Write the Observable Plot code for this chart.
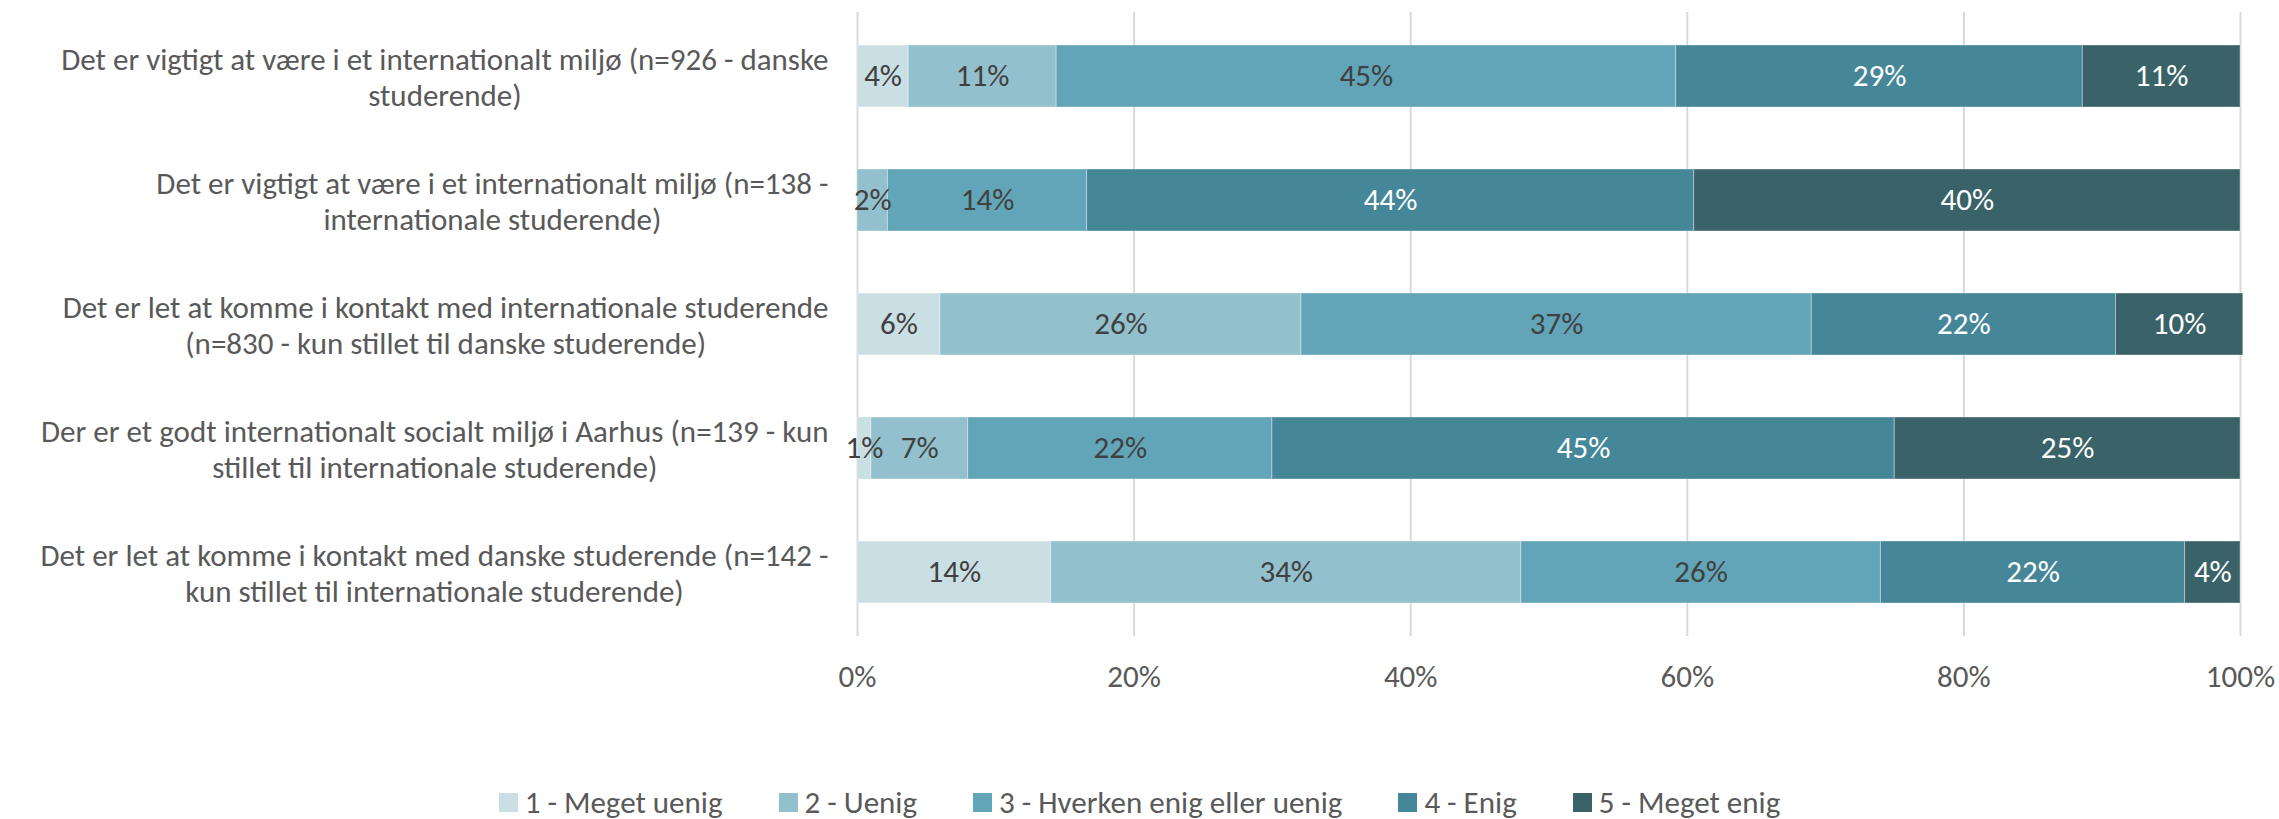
<!DOCTYPE html>
<html>
<head>
<meta charset="utf-8">
<script src="https://cdn.jsdelivr.net/npm/d3@7"></script>
<script src="https://cdn.jsdelivr.net/npm/@observablehq/plot@0.6"></script>
<style>
  html, body { margin: 0; padding: 0; background: #ffffff; overflow: hidden; }
  #chart svg { display: block; }
  #legend { display: flex; justify-content: center; align-items: center; margin-top: 26px; height: 32px; color: #595959; }
  .item { display: flex; align-items: center; margin: 0 28px; white-space: nowrap; }
  .sw { display: inline-block; width: 19px; height: 19px; margin-right: 7px; }
</style>
</head>
<body>
<div id="chart"></div>
<div id="legend"></div>
<script>
const categories = [
  "Det er vigtigt at være i et internationalt miljø (n=926 - danske\nstuderende)",
  "Det er vigtigt at være i et internationalt miljø (n=138 -\ninternationale studerende)",
  "Det er let at komme i kontakt med internationale studerende\n(n=830 - kun stillet til danske studerende)",
  "Der er et godt internationalt socialt miljø i Aarhus (n=139 - kun\nstillet til internationale studerende)",
  "Det er let at komme i kontakt med danske studerende (n=142 -\nkun stillet til internationale studerende)"
];
const series = ["1 - Meget uenig", "2 - Uenig", "3 - Hverken enig eller uenig", "4 - Enig", "5 - Meget enig"];
const colors = ["#c9dfe3", "#93c0cd", "#62a5b8", "#458799", "#3a6369"];

// segment lengths (percent)
const megetUenig = [3.7, 0, 6.0, 1.0, 14.0];
const uenig      = [10.7, 2.2, 26.1, 7.0, 34.0];
const hverken    = [44.8, 14.4, 36.9, 22.0, 26.0];
const enig       = [29.4, 43.9, 22.0, 45.0, 22.0];
const megetEnig  = [11.4, 39.5, 9.2, 25.0, 4.0];

// data labels as printed
const lblMegetUenig = ["4%", "", "6%", "1%", "14%"];
const lblUenig      = ["11%", "2%", "26%", "7%", "34%"];
const lblHverken    = ["45%", "14%", "37%", "22%", "26%"];
const lblEnig       = ["29%", "44%", "22%", "45%", "22%"];
const lblMegetEnig  = ["11%", "40%", "10%", "25%", "4%"];

const xTicks = [0, 20, 40, 60, 80, 100];
const xTickLabels = ["0%", "20%", "40%", "60%", "80%", "100%"];

const valueSets = [megetUenig, uenig, hverken, enig, megetEnig];
const labelSets = [lblMegetUenig, lblUenig, lblHverken, lblEnig, lblMegetEnig];

const data = [];
categories.forEach((c, i) => {
  series.forEach((s, j) => {
    data.push({category: c, series: s, idx: j, value: valueSets[j][i], label: labelSets[j][i]});
  });
});
const ticks = xTicks.map((v, i) => ({v, t: xTickLabels[i]}));

const FONT = "Carlito, Calibri, Lato, sans-serif";
const ctx = document.createElement("canvas").getContext("2d");
function tw(text, fs) { ctx.font = `${fs}px ${FONT}`; return ctx.measureText(text).width; }
const longest = d3.max(categories, c => d3.max(c.split("\n"), l => tw(l, 100)));
const fs = Math.min(31, 100 * 813 / longest);

const labelMarks = categories.map(c => {
  const mw = d3.max(c.split("\n"), l => tw(l, fs));
  return Plot.text([c], {
    x: () => 0, y: d => d, text: d => d,
    textAnchor: "middle", dx: -(29 + mw / 2),
    lineHeight: 36 / fs, fill: "#595959", fontSize: fs
  });
});

const plot = Plot.plot({
  width: 2279,
  height: 760,
  marginLeft: 857,
  marginRight: 39,
  marginTop: 12,
  marginBottom: 124,
  style: {fontFamily: FONT, fontSize: fs + "px", color: "#595959", background: "#ffffff"},
  x: {domain: [0, 100], axis: null},
  y: {domain: categories, paddingInner: 0.5, paddingOuter: 0.25, axis: null},
  color: {domain: series, range: colors},
  marks: [
    Plot.ruleX(xTicks, {stroke: "#d9d9d9", strokeWidth: 2}),
    Plot.barX(data, Plot.stackX({x: "value", y: "category", fill: "series", stroke: "#ffffff", strokeWidth: 1, strokeOpacity: 0.35})),
    Plot.text(data, Plot.stackX({x: "value", y: "category", z: "series", text: d => d.idx < 3 ? d.label : "", fill: "#404040", fontSize: fs})),
    Plot.text(data, Plot.stackX({x: "value", y: "category", z: "series", text: d => d.idx >= 3 ? d.label : "", fill: "#ffffff", fontSize: fs})),
    Plot.text(ticks, {x: "v", text: "t", frameAnchor: "bottom", dy: 50, fill: "#595959", fontSize: fs}),
    ...labelMarks
  ]
});
document.getElementById("chart").appendChild(plot);

const legend = document.getElementById("legend");
legend.style.fontFamily = FONT;
legend.style.fontSize = fs + "px";
series.forEach((s, i) => {
  const it = document.createElement("div");
  it.className = "item";
  const sw = document.createElement("span");
  sw.className = "sw";
  sw.style.background = colors[i];
  const t = document.createElement("span");
  t.textContent = s;
  it.appendChild(sw);
  it.appendChild(t);
  legend.appendChild(it);
});
</script>
</body>
</html>
